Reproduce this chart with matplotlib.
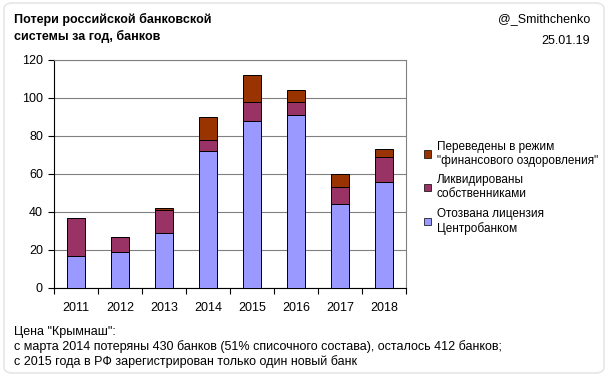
import matplotlib
matplotlib.use("Agg")
import matplotlib.pyplot as plt
import numpy as np
from matplotlib.patches import Patch, FancyBboxPatch

plt.rcParams['font.family'] = ['Liberation Sans', 'DejaVu Sans']

years = ['2011', '2012', '2013', '2014', '2015', '2016', '2017', '2018']
revoked = [17, 19, 29, 72, 88, 91, 44, 56]
liquidated = [20, 8, 12, 6, 10, 7, 9, 13]
sanation = [0, 0, 1, 12, 14, 6, 7, 4]

lbl_san = 'Переведены в режим\n"финансового оздоровления"'
lbl_liq = 'Ликвидированы\nсобственниками'
lbl_rev = 'Отозвана лицензия\nЦентробанком'

c_rev = '#9999FF'
c_liq = '#993366'
c_san = '#993300'

FS = 9

fig = plt.figure(figsize=(6.10, 3.77), dpi=100)
W, H = 610, 377
ax = fig.add_axes([54 / W, 1 - 288 / H, 352 / W, 228 / H])

x = np.arange(len(years))
rev = np.array(revoked)
liq = np.array(liquidated)
san = np.array(sanation)
bw = 0.41
ax.bar(x, rev, bw, color=c_rev, edgecolor='black', linewidth=0.7, zorder=3)
ax.bar(x, liq, bw, bottom=rev, color=c_liq, edgecolor='black', linewidth=0.7, zorder=3)
ax.bar(x, san, bw, bottom=rev + liq, color=c_san, edgecolor='black', linewidth=0.7, zorder=3)

ax.set_xlim(-0.5, len(years) - 0.5)
ax.set_ylim(0, 120)
ax.set_yticks(range(0, 121, 20))
ax.yaxis.grid(True, color='#808080', linewidth=0.8, zorder=0)
ax.set_xticks(x)
ax.set_xticklabels(years)
ax.set_xticks(np.arange(-0.5, len(years), 1), minor=True)
ax.tick_params(axis='x', which='major', length=0, pad=10, labelsize=FS)
ax.tick_params(axis='x', which='minor', length=4, width=0.8, direction='out')
ax.tick_params(axis='y', length=4, width=0.8, direction='out', labelsize=FS, pad=4)
for s in ['left', 'bottom']:
    ax.spines[s].set_color('black')
    ax.spines[s].set_linewidth(0.8)
for s in ['top', 'right']:
    ax.spines[s].set_color('#808080')
    ax.spines[s].set_linewidth(0.8)

handles = [Patch(facecolor=c_san, edgecolor='black', linewidth=0.5, label=lbl_san),
           Patch(facecolor=c_liq, edgecolor='black', linewidth=0.5, label=lbl_liq),
           Patch(facecolor=c_rev, edgecolor='black', linewidth=0.5, label=lbl_rev)]
fig.legend(handles=handles, loc='upper left', bbox_to_anchor=(419 / W, 1 - 136 / H),
           frameon=False, fontsize=8.5, handlelength=0.65, handleheight=0.65,
           handletextpad=0.45, labelspacing=0.65, borderaxespad=0)

fig.text(14 / W, 1 - 19 / H, 'Потери российской банковской', fontsize=FS,
         fontweight='bold', va='center', ha='left')
fig.text(14 / W, 1 - 36 / H, 'системы за год, банков', fontsize=FS,
         fontweight='bold', va='center', ha='left')
fig.text(590 / W, 1 - 19 / H, '@_Smithchenko', fontsize=FS, va='center', ha='right')
fig.text(590 / W, 1 - 41 / H, '25.01.19', fontsize=FS, va='center', ha='right')

fig.text(14 / W, 1 - 332 / H, 'Цена "Крымнаш":', fontsize=FS, va='center', ha='left')
fig.text(14 / W, 1 - 347 / H,
         'с марта 2014 потеряны 430 банков (51% списочного состава), осталось 412 банков;',
         fontsize=FS, va='center', ha='left')
fig.text(14 / W, 1 - 362 / H, 'с 2015 года в РФ зарегистрирован только один новый банк',
         fontsize=FS, va='center', ha='left')

card = FancyBboxPatch((4 / W, 4 / H), 600 / W, 370 / H, boxstyle='round,pad=0,rounding_size=0.015',
                      transform=fig.transFigure, facecolor='none', edgecolor='#e6e6e6',
                      linewidth=1.2, zorder=-1)
fig.patches.append(card)

fig.savefig('out.png', dpi=100)
